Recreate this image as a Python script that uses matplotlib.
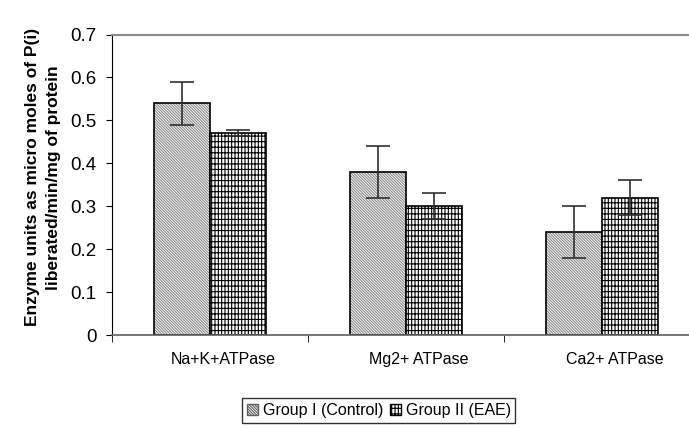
import numpy as np
import matplotlib
matplotlib.use("Agg")
import matplotlib.pyplot as plt
import matplotlib.transforms as mtransforms

# data
categories = ["Na+K+ATPase", "Mg2+ ATPase", "Ca2+ ATPase"]
control = [0.54, 0.38, 0.24]
control_err = [0.05, 0.06, 0.06]
eae = [0.47, 0.30, 0.32]
eae_err = [0.007, 0.03, 0.04]
series_names = ["Group I (Control)", "Group II (EAE)"]

plt.rcParams['font.family'] = ['Liberation Sans', 'DejaVu Sans']
plt.rcParams['hatch.linewidth'] = 0.8

fig = plt.figure(figsize=(6.89, 4.28), dpi=100)
# plot area runs slightly past the right edge, like the original crop
ax = fig.add_axes([112 / 689, 93 / 428, 588 / 689, 300.5 / 428])

x = np.arange(len(categories))
w = 0.286
ctrl_hatch = '\\' * 12
eae_hatch = '|' * 5 + '-' * 3

# control bars: grey diagonal hatch, then black outline on top
ax.bar(x - w / 2, control, w, color='white', edgecolor='#8a8a8a',
       hatch=ctrl_hatch, linewidth=0)
ax.bar(x - w / 2, control, w, fill=False, edgecolor='black', linewidth=1.2)
# EAE bars: dense black grid hatch
ax.bar(x + w / 2, eae, w, color='white', edgecolor='black',
       hatch=eae_hatch, linewidth=1.2)

ax.errorbar(x - w / 2, control, yerr=control_err, fmt='none', ecolor='#303030',
            elinewidth=1.2, capsize=8.5, capthick=1.2)
ax.errorbar(x + w / 2, eae, yerr=eae_err, fmt='none', ecolor='#303030',
            elinewidth=1.2, capsize=8.5, capthick=1.2)

ax.set_xlim(-0.5, len(categories) - 0.5)
ax.set_ylim(0, 0.7)
ax.set_yticks(np.arange(0, 0.71, 0.1))
ax.set_yticklabels(['0', '0.1', '0.2', '0.3', '0.4', '0.5', '0.6', '0.7'])
ax.set_xticks(x)
ax.set_xticklabels(categories)
ax.set_xticks(np.arange(-0.5, len(categories), 1.0), minor=True)
ax.tick_params(axis='x', which='major', length=0, pad=12, labelsize=11.5)
ax.tick_params(axis='x', which='minor', length=5, direction='out', color='black')
ax.tick_params(axis='y', length=4, direction='out', labelsize=13.5, pad=7)

# category labels sit a little right of the bar pairs in the original
shift = mtransforms.ScaledTranslation(0.13, 0, fig.dpi_scale_trans)
for lbl in ax.get_xticklabels():
    lbl.set_transform(lbl.get_transform() + shift)

ax.spines['right'].set_visible(False)
ax.spines['top'].set_color('#8a8a8a')
ax.spines['top'].set_linewidth(1.5)
ax.spines['bottom'].set_color('#606060')
ax.spines['bottom'].set_linewidth(1.2)
ax.spines['left'].set_color('black')

ax.set_ylabel('Enzyme units as micro moles of P(i)\nliberated/min/mg of protein',
              fontsize=12.5, fontweight='bold', linespacing=1.45)
ax.yaxis.set_label_coords(-0.087, 0.525)

# legend handles
h1 = plt.Rectangle((0, 0), 1, 1, facecolor='white', edgecolor='#606060', hatch=ctrl_hatch)
h2 = plt.Rectangle((0, 0), 1, 1, facecolor='white', edgecolor='black', hatch=eae_hatch)
leg = fig.legend([h1, h2], series_names, loc='upper left',
                 bbox_to_anchor=(242 / 689, 1 - 398 / 428), ncol=2,
                 fontsize=11.5, frameon=True, fancybox=False, borderpad=0.3,
                 handlelength=0.7, handleheight=0.7, handletextpad=0.3,
                 columnspacing=0.4, borderaxespad=0)
leg.get_frame().set_edgecolor('black')
leg.get_frame().set_linewidth(1.0)

fig.savefig('out.png', dpi=100)
